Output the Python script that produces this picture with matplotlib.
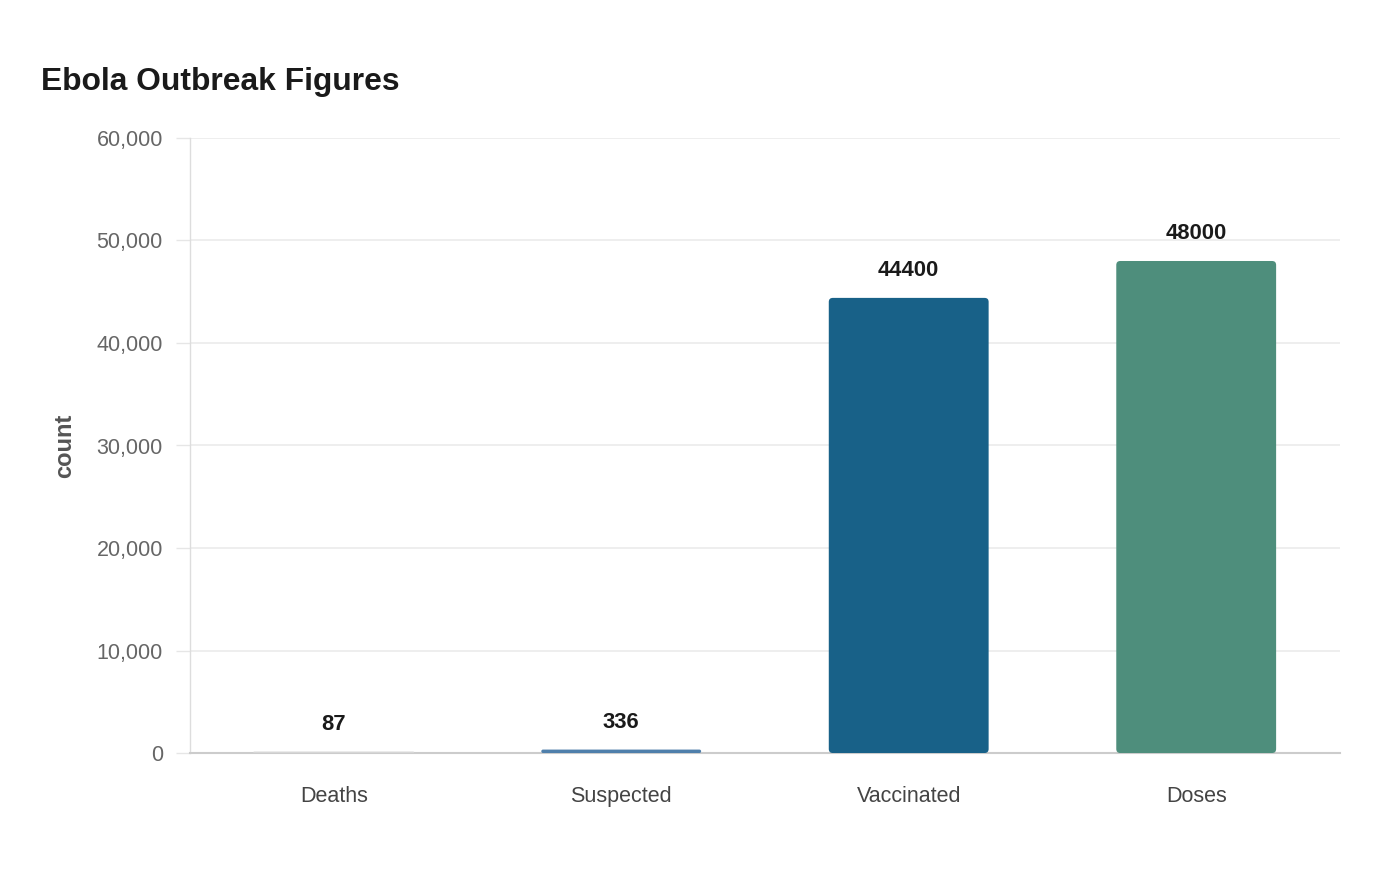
import matplotlib
matplotlib.use("Agg")
import matplotlib.pyplot as plt
from matplotlib.patches import FancyBboxPatch
from matplotlib.ticker import FuncFormatter

plt.rcParams['font.family'] = ['Liberation Sans', 'DejaVu Sans']

categories = ["Deaths", "Suspected", "Vaccinated", "Doses"]
counts = [87, 336, 44400, 48000]
colors = ["#d6d6d6", "#4f7fab", "#186188", "#4e8e7c"]
yticks = [0, 10000, 20000, 30000, 40000, 50000, 60000]

fig = plt.figure(figsize=(14, 8.8), dpi=100)
ax = fig.add_axes([0.1357, 0.1443, 0.8214, 0.6989])

width = 0.556
bars = ax.bar(range(len(categories)), counts, width=width, color=colors, zorder=2)

# swap plain bars for rounded ones
ymax = 60000
aspect = 60000 / 615 / (1 / 287.5)  # data units per px, y over x
for b in bars:
    x0, y0 = b.get_x(), b.get_y()
    w, h = b.get_width(), b.get_height()
    r = min(0.014, h / aspect / 2)
    thin = h < 200
    p = FancyBboxPatch((x0, y0), w, h,
                       boxstyle="round,pad=0,rounding_size=%f" % r,
                       mutation_aspect=aspect,
                       facecolor=b.get_facecolor(),
                       edgecolor=b.get_facecolor() if thin else "none",
                       linewidth=0.8 if thin else 0, zorder=3)
    b.set_visible(False)
    ax.add_patch(p)

for i, v in enumerate(counts):
    ax.text(i, v + 2650, str(v), ha="center", va="center",
            fontsize=15.8, fontweight="bold", color="#1a1a1a")

ax.set_xlim(-0.5, 3.5)
ax.set_ylim(0, ymax)
ax.set_yticks(yticks)
ax.yaxis.set_major_formatter(FuncFormatter(lambda v, p: f"{int(v):,}"))
ax.set_xticks(range(len(categories)))
ax.set_xticklabels(categories)

ax.grid(axis="y", color="#ebebeb", linewidth=1.2, zorder=0)
for s in ["top", "right"]:
    ax.spines[s].set_visible(False)
ax.spines["left"].set_color("#dddddd")
ax.spines["left"].set_linewidth(1)
ax.spines["bottom"].set_color("#cccccc")
ax.spines["bottom"].set_linewidth(1.5)

ax.tick_params(axis="y", length=10, width=1, color="#e6e6e6",
               labelsize=15.5, labelcolor="#666666", pad=9.5)
ax.tick_params(axis="x", length=0, labelsize=15.5, labelcolor="#444444", pad=24)

ax.set_ylabel("count", fontsize=17, fontweight="bold", color="#555555", labelpad=15)

fig.text(0.029, 0.907, "Ebola Outbreak Figures", fontsize=22.9,
         fontweight="bold", color="#1a1a1a", ha="left", va="center")

fig.savefig("out.png", dpi=100, facecolor="white")
